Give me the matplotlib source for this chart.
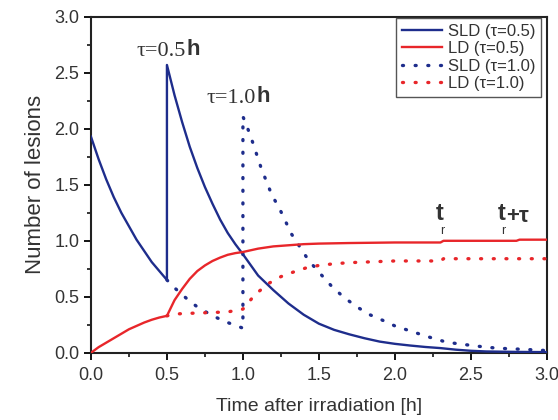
import matplotlib
matplotlib.use("Agg")
import matplotlib.pyplot as plt

plt.rcParams['font.family'] = ['Liberation Sans', 'DejaVu Sans']

# ---- data ----
t_sld05 = [0, 0.05, 0.1, 0.15, 0.2, 0.25, 0.3, 0.35, 0.4, 0.45, 0.5, 0.5, 0.55, 0.6, 0.65, 0.7,
           0.75, 0.8, 0.85, 0.9, 0.95, 1.0, 1.1, 1.2, 1.3, 1.4, 1.5, 1.6, 1.7, 1.8, 1.9, 2.0,
           2.1, 2.2, 2.3, 2.4, 2.5, 2.6, 2.8, 3.0]
sld05 = [1.93, 1.73, 1.55, 1.39, 1.25, 1.13, 1.01, 0.91, 0.81, 0.73, 0.65, 2.57, 2.30, 2.06,
         1.84, 1.65, 1.48, 1.33, 1.19, 1.07, 0.97, 0.88, 0.69, 0.56, 0.44, 0.34, 0.26, 0.205,
         0.165, 0.13, 0.10, 0.08, 0.065, 0.052, 0.042, 0.028, 0.018, 0.012, 0.008, 0.006]

t_ld05 = [0, 0.05, 0.1, 0.15, 0.2, 0.25, 0.3, 0.35, 0.4, 0.45, 0.5, 0.55, 0.6, 0.65, 0.7, 0.75,
          0.8, 0.85, 0.9, 0.95, 1.0, 1.1, 1.2, 1.3, 1.4, 1.5, 1.7, 2.0, 2.3, 2.32, 2.8, 2.82, 3.0]
ld05 = [0.0, 0.05, 0.09, 0.13, 0.17, 0.21, 0.24, 0.27, 0.295, 0.315, 0.33, 0.47, 0.57, 0.66,
        0.73, 0.78, 0.82, 0.85, 0.875, 0.89, 0.90, 0.93, 0.95, 0.96, 0.97, 0.975, 0.98, 0.985,
        0.985, 1.0, 1.0, 1.01, 1.01]

t_sld10 = [0, 0.05, 0.1, 0.15, 0.2, 0.25, 0.3, 0.35, 0.4, 0.45, 0.5, 0.55, 0.6, 0.65, 0.7, 0.75,
           0.8, 0.85, 0.9, 0.95, 1.0, 1.0, 1.035, 1.064, 1.12, 1.19, 1.24, 1.32, 1.43, 1.5,
           1.58, 1.66, 1.75, 1.835, 1.92, 2.0, 2.09, 2.18, 2.25, 2.34, 2.42, 2.51, 2.6, 2.69,
           2.78, 2.86, 2.93, 3.0]
sld10 = [1.93, 1.73, 1.55, 1.39, 1.25, 1.13, 1.01, 0.91, 0.81, 0.73, 0.65, 0.58, 0.52, 0.46,
         0.41, 0.37, 0.33, 0.30, 0.27, 0.245, 0.22, 2.11, 1.99, 1.88, 1.65, 1.41, 1.29, 1.06,
         0.83, 0.72, 0.60, 0.50, 0.41, 0.34, 0.29, 0.24, 0.20, 0.16, 0.13, 0.095, 0.08, 0.065,
         0.05, 0.04, 0.035, 0.03, 0.025, 0.02]

t_ld10 = [0, 0.05, 0.1, 0.15, 0.2, 0.25, 0.3, 0.35, 0.4, 0.45, 0.5, 0.55, 0.6, 0.7, 0.8, 0.9,
          1.0, 1.08, 1.17, 1.25, 1.33, 1.42, 1.5, 1.6, 1.7, 1.8, 1.9, 2.0, 2.3, 2.32, 3.0]
ld10 = [0.0, 0.05, 0.09, 0.13, 0.17, 0.21, 0.24, 0.27, 0.295, 0.315, 0.33, 0.345, 0.35, 0.355,
        0.36, 0.365, 0.39, 0.52, 0.62, 0.68, 0.72, 0.76, 0.78, 0.795, 0.805, 0.81, 0.815,
        0.82, 0.82, 0.84, 0.84]

xticks = [0.0, 0.5, 1.0, 1.5, 2.0, 2.5, 3.0]
yticks = [0.0, 0.5, 1.0, 1.5, 2.0, 2.5, 3.0]

blue = '#1e2d8c'
red = '#e8262a'
txtc = '#333333'

fig = plt.figure(figsize=(5.58, 4.2), dpi=100)
ax = fig.add_axes([0.163, 0.160, 0.817, 0.800])

# the tau=1.0 curves coincide with the tau=0.5 curves before t=0.5 (hidden under them)
i_s = t_sld10.index(0.5)
i_l = t_ld10.index(0.5)
dot = (0, (0.3, 3.5))
l3, = ax.plot(t_sld10[i_s:], sld10[i_s:], color=blue, lw=2.4, ls=dot, zorder=3,
              label='SLD (τ=1.0)', dash_capstyle='round')
l4, = ax.plot(t_ld10[i_l:], ld10[i_l:], color=red, lw=2.4, ls=dot, zorder=3,
              label='LD (τ=1.0)', dash_capstyle='round')
l1, = ax.plot(t_sld05, sld05, color=blue, lw=1.7, zorder=4, label='SLD (τ=0.5)')
l2, = ax.plot(t_ld05, ld05, color=red, lw=1.7, zorder=4, label='LD (τ=0.5)')

ax.set_xlim(0, 3)
ax.set_ylim(0, 3)
ax.set_xticks(xticks)
ax.set_yticks(yticks)
ax.set_xticklabels([f'{v:.1f}' for v in xticks])
ax.set_yticklabels([f'{v:.1f}' for v in yticks])
ax.set_xticks([0.25, 0.75, 1.25, 1.75, 2.25, 2.75], minor=True)
ax.set_yticks([0.25, 0.75, 1.25, 1.75, 2.25, 2.75], minor=True)
ax.tick_params(which='major', direction='out', length=5, width=1.3, labelsize=13,
               labelcolor=txtc, top=False, right=False)
ax.tick_params(axis='x', which='major', pad=5)
ax.tick_params(which='minor', direction='out', length=3, width=1.1, top=False, right=False)
for s in ax.spines.values():
    s.set_linewidth(1.5)
    s.set_color('#222222')

ax.set_xlabel('Time after irradiation [h]', fontsize=14, color=txtc, labelpad=10)
ax.set_ylabel('Number of lesions', fontsize=16, color=txtc, labelpad=6)

leg = ax.legend(handles=[l1, l2, l3, l4], loc='upper right', bbox_to_anchor=(0.987, 0.997),
                borderaxespad=0, fontsize=12, handlelength=2.4, handletextpad=0.35,
                labelspacing=0.15, borderpad=0.35, fancybox=False, framealpha=1,
                edgecolor='#555555')
leg.get_frame().set_linewidth(1.0)
for txt in leg.get_texts():
    txt.set_color(txtc)

# annotations
serif = ['Liberation Serif', 'DejaVu Serif']
a1 = ax.text(0.30, 2.69, 'τ=0.5', fontsize=16, family=serif, color=txtc, va='center', ha='left')
ax.annotate('h', xy=(1, 0.5), xycoords=a1, xytext=(0.5, 1.5), textcoords='offset points',
            fontsize=16, fontweight='bold', color=txtc, va='center', ha='left')
a2 = ax.text(0.76, 2.27, 'τ=1.0', fontsize=16, family=serif, color=txtc, va='center', ha='left')
ax.annotate('h', xy=(1, 0.5), xycoords=a2, xytext=(0.5, 1.5), textcoords='offset points',
            fontsize=16, fontweight='bold', color=txtc, va='center', ha='left')

ax.text(2.27, 1.24, 't', fontsize=17, fontweight='bold', color=txtc, va='center', ha='left')
ax.text(2.295, 1.09, 'r', fontsize=9, color=txtc, va='center', ha='left')
ax.text(2.675, 1.24, 't', fontsize=17, fontweight='bold', color=txtc, va='center', ha='left')
ax.text(2.70, 1.09, 'r', fontsize=9, color=txtc, va='center', ha='left')
ax.text(2.735, 1.22, '+τ', fontsize=16, fontweight='bold', color=txtc, va='center', ha='left')

fig.savefig('out.png', dpi=100)
